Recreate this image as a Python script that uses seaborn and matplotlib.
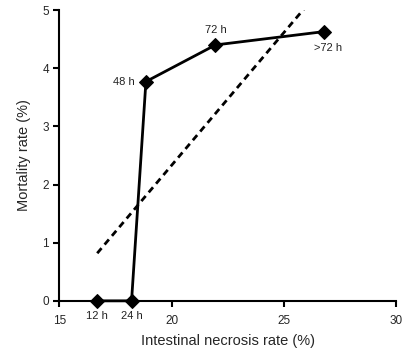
import matplotlib
matplotlib.use("Agg")
import matplotlib.pyplot as plt
import seaborn as sns
import pandas as pd

labels = ["12 h", "24 h", "48 h", "72 h", ">72 h"]
necrosis = [16.69, 18.22, 18.86, 21.96, 26.81]
mortality = [0.0, 0.0, 3.77, 4.40, 4.63]
xticks = [15, 20, 25, 30]
yticks = [0, 1, 2, 3, 4, 5]

df = pd.DataFrame({"necrosis": necrosis, "mortality": mortality, "label": labels})

sns.set_theme(style="white")
plt.rcParams["font.family"] = ["Liberation Sans", "DejaVu Sans"]

fig = plt.figure(figsize=(4.09, 3.59), dpi=100)
ax = fig.add_axes([0.145, 0.162, 0.823, 0.81])

sns.regplot(data=df, x="necrosis", y="mortality", ci=None, scatter=False, ax=ax,
            line_kws=dict(color="black", lw=2, ls=(0, (2.4, 1.7))), truncate=True)
sns.lineplot(data=df, x="necrosis", y="mortality", ax=ax, color="black", lw=2,
             marker="D", markersize=7, markeredgecolor="black", sort=False, clip_on=False)

offsets = {
    "12 h": (0, -7, "center", "top"),
    "24 h": (0, -7, "center", "top"),
    "48 h": (-8, 0, "right", "center"),
    "72 h": (0, 7, "center", "bottom"),
    ">72 h": (3, -8, "center", "top"),
}
for xv, yv, lab in zip(necrosis, mortality, labels):
    dx, dy, ha, va = offsets[lab]
    ax.annotate(lab, (xv, yv), xytext=(dx, dy), textcoords="offset points",
                ha=ha, va=va, fontsize=8, color="#222222")

ax.set_xlim(15, 30)
ax.set_ylim(0, 5)
ax.set_xticks(xticks)
ax.set_yticks(yticks)
ax.set_xlabel("Intestinal necrosis rate (%)", fontsize=10.5, labelpad=5)
ax.set_ylabel("Mortality rate (%)", fontsize=10.5, labelpad=8)
ax.tick_params(axis="both", labelsize=8.5, direction="out", length=4, width=1.5,
               color="black", bottom=True, left=True)
ax.tick_params(axis="x", pad=6)
for side in ["top", "right"]:
    ax.spines[side].set_visible(False)
for side in ["left", "bottom"]:
    ax.spines[side].set_color("black")
    ax.spines[side].set_linewidth(1.5)

fig.savefig("out.png", dpi=100)
